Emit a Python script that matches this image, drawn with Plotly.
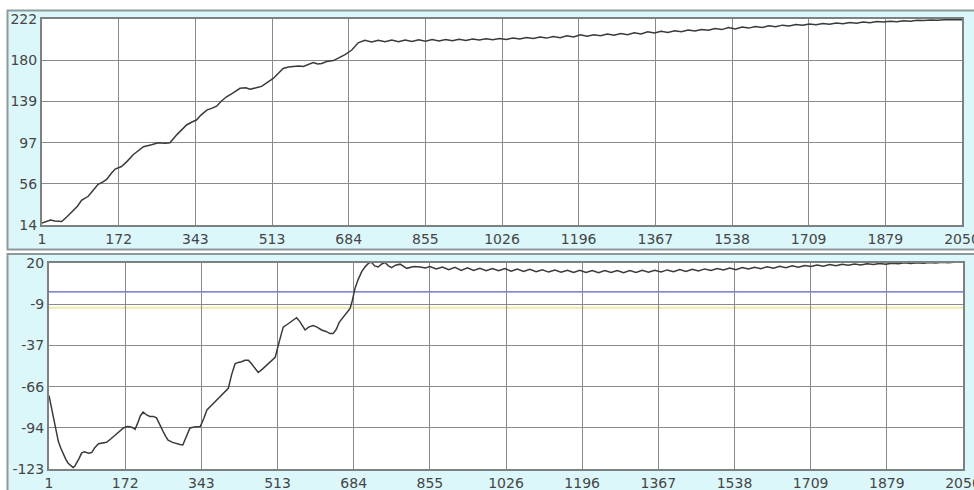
import plotly.graph_objects as go

# ---------------------------------------------------------------- data
# Upper trace: sample index vs. measured level
TOP_IDX = [1, 10, 20, 30, 45, 56, 67, 80, 89, 104, 115, 126, 135, 145, 155, 164, 178, 190, 204, 215,
           227, 245, 260, 275, 286, 301, 312, 323, 335, 345, 355, 368, 380, 390, 400, 412, 425, 442, 455, 464,
           478, 490, 503, 516, 527, 538, 550, 561, 572, 583, 595, 605, 615, 624, 635, 650, 663, 676, 691, 705,
           720, 735, 750, 765, 780, 795, 810, 825, 840, 855, 870, 885, 900, 915, 930, 945, 960, 975, 990, 1005,
           1020, 1035, 1050, 1065, 1080, 1095, 1110, 1125, 1140, 1155, 1170, 1185, 1200, 1215, 1230, 1245, 1260,
           1275, 1290, 1305, 1320, 1335, 1350, 1365, 1380, 1395, 1410, 1425, 1440, 1455, 1470, 1485, 1500, 1515,
           1530, 1545, 1560, 1575, 1590, 1605, 1620, 1635, 1650, 1665, 1680, 1695, 1710, 1725, 1740, 1755, 1770,
           1785, 1800, 1815, 1830, 1845, 1860, 1875, 1890, 1905, 1920, 1935, 1950, 1965, 1980, 1995, 2010, 2025,
           2040, 2050]
TOP_VAL = [16, 17.5, 19, 18, 17.5, 22, 27, 33, 39, 43, 49, 55, 57, 60, 66, 70.5, 73, 78, 85, 89,
           93, 95, 97, 96.5, 97, 105, 110, 115, 118, 120, 125, 130, 132, 134, 139, 143.5, 147, 152, 152.5, 151,
           152.5, 154, 158, 162, 167, 172, 173.5, 174, 174.5, 174, 176, 178, 176.5, 177, 179, 180, 183, 186, 190.7, 198,
           200.5, 198.8, 200.6, 199, 200.7, 199.1, 200.9, 199.3, 201, 199.6, 201.2, 199.8, 201.4, 200.1, 201.5, 200.4,
           201.7, 200.7, 202, 201, 202.3, 201.4, 202.8, 201.9, 203.2, 202.3, 203.7, 202.7, 204.3, 203.2, 205, 203.8,
           206, 204.6, 206.2, 205, 206.8, 205.5, 207.4, 206.2, 208.1, 206.9, 209.2, 207.8, 209.6, 208.5, 210.2, 209.1,
           210.9, 209.8, 211.5, 210.6, 212.3, 211.3, 213.4, 212, 213.8, 212.8, 214.5, 213.5, 215.1, 214.1, 215.8, 214.9,
           216.4, 215.6, 217, 216.2, 217.5, 216.8, 218, 217.3, 218.5, 217.8, 218.9, 218.3, 219.4, 218.9, 219.8, 219.3,
           220.3, 219.8, 220.7, 220.4, 221, 220.7, 221.2, 221, 221.4, 221.2]

# Lower trace: sample index vs. deviation
BOT_IDX = [1, 6, 11, 16, 22, 28, 33, 39, 44, 50, 55, 59, 63, 68, 74, 80, 85, 91, 97, 104,
           112, 120, 130, 140, 149, 158, 168, 176, 183, 190, 194, 200, 206, 212, 220, 227, 235, 242, 250, 257,
           263, 268, 278, 287, 295, 301, 309, 317, 330, 340, 348, 355, 366, 377, 390, 403, 410, 418, 425, 433,
           440, 448, 455, 462, 470, 480, 489, 498, 508, 516, 522, 526, 538, 547, 556, 563, 570, 575, 583, 593,
           602, 612, 622, 631, 638, 645, 652, 661, 668, 676, 681, 687, 694, 702, 710, 718, 724, 731, 739, 747,
           754, 762, 769, 778, 788, 796, 803, 812, 820, 833, 845,
           855, 869, 883, 897, 911, 925, 939, 953, 967, 981, 995, 1009, 1023, 1037, 1051, 1065, 1079, 1093, 1107,
           1121, 1135, 1149, 1163, 1177, 1191, 1205, 1219, 1233, 1247, 1261, 1275, 1289, 1303, 1317, 1331, 1345,
           1359, 1373, 1387, 1401, 1415, 1429, 1443, 1457, 1471, 1485, 1499, 1513, 1527, 1541, 1555, 1569, 1583,
           1597, 1611, 1625, 1639, 1653, 1667, 1681, 1695, 1709, 1723, 1737, 1751, 1765, 1779, 1793, 1807, 1821,
           1835, 1849, 1863, 1877, 1891, 1905, 1919, 1933, 1947, 1961, 1975, 1989, 2003, 2017, 2031, 2045, 2050]
BOT_VAL = [-72, -80, -88, -96, -104, -109, -113, -116.5, -119, -121, -122, -121, -119, -116, -112, -111, -111.5, -112, -111.5, -108,
           -105.5, -105, -104.5, -102, -99.5, -97, -94.5, -93.5, -93.6, -94.5, -95.5, -91, -86, -83.5, -85.5, -86.5, -86.5, -87.5, -92, -97,
           -100.5, -103, -104.5, -105.5, -106, -106.3, -101, -94.5, -93.6, -93.5, -88, -82, -78.5, -75, -71, -67, -58, -50, -49, -48.5,
           -47.5, -47.5, -50, -53, -56, -53.5, -51, -48.5, -45.5, -36, -28, -24.5, -22, -20, -18, -20.5, -24.5, -26.5, -24.5, -23.5,
           -24.5, -26.5, -27.5, -29, -29, -26, -21, -17.5, -15, -11.5, -6, 2.4, 8.5, 14, 17.5, 20, 20.5, 18, 17.2, 19.3,
           20.3, 18, 16.8, 18.5, 19.2, 17.5, 16.3, 17, 17.6, 17.3, 16.6,
           17.5, 15.8, 17.2, 15.3, 17.0, 14.9, 16.7, 14.8, 16.4, 14.6, 16.2, 14.6, 16.1, 14.3, 15.8, 14.1, 15.6, 13.9, 15.3,
           13.7, 15.1, 13.6, 15.0, 13.4, 14.9, 13.5, 14.8, 13.3, 14.7, 13.4, 14.8, 13.3, 14.8, 13.5, 14.9, 13.6,
           15.0, 13.8, 15.2, 14.0, 15.4, 14.2, 15.6, 14.5, 15.9, 14.8, 16.2, 15.1, 16.5, 15.4, 16.8, 15.8, 17.1,
           16.1, 17.4, 16.4, 17.7, 16.8, 18.0, 17.1, 18.3, 17.5, 18.6, 17.8, 18.9, 18.1, 19.1, 18.4, 19.3, 18.7,
           19.5, 18.9, 19.7, 19.1, 19.9, 19.4, 20.1, 19.6, 20.2, 19.8, 20.4, 20.0, 20.5, 20.1, 20.6, 20.3, 20.5]

X_TICKS = [1 + k * 2049 / 12 for k in range(13)]
X_LABELS = ["1", "172", "343", "513", "684", "855", "1026", "1196", "1367", "1538", "1709", "1879", "2050"]

TOP_RANGE = [14, 222]
TOP_TICKS = [14 + k * 208 / 5 for k in range(6)]
TOP_LABELS = ["14", "56", "97", "139", "180", "222"]

BOT_RANGE = [-123, 20]
BOT_TICKS = [-123 + k * 143 / 5 for k in range(6)]
BOT_LABELS = ["-123", "-94", "-66", "-37", "-9", "20"]

ZERO_LEVEL = 0
LIMIT_LEVEL = -11

# ---------------------------------------------------------------- layout helpers
W, H = 974, 490
PANEL = "#dcf7fa"
FRAME = "#7c8282"
GRID = "#8a8a8a"
INK = "#3a3a3a"


def fx(p):
    return p / W


def fy(p):
    return 1 - p / H


top_x = [fx(42), fx(962)]
top_y = [fy(225), fy(19)]
bot_x = [fx(49), fx(963)]
bot_y = [fy(469), fy(263)]

fig = go.Figure()
fig.add_trace(go.Scatter(x=TOP_IDX, y=TOP_VAL, mode="lines",
                         line=dict(color=INK, width=1.5), xaxis="x", yaxis="y", hoverinfo="skip"))
fig.add_trace(go.Scatter(x=BOT_IDX, y=BOT_VAL, mode="lines",
                         line=dict(color=INK, width=1.5), xaxis="x2", yaxis="y2", hoverinfo="skip"))

common = dict(showgrid=True, gridcolor=GRID, gridwidth=1, zeroline=False, showline=True,
              mirror=True, linecolor=FRAME, linewidth=2, ticks="", fixedrange=True,
              automargin=False, ticklabeloverflow="allow",
              tickfont=dict(family="DejaVu Sans", size=14, color="#454545"))

fig.update_layout(
    width=W, height=H, margin=dict(l=0, r=0, t=0, b=0, autoexpand=False),
    paper_bgcolor="white", plot_bgcolor="white", showlegend=False,
    xaxis=dict(domain=top_x, range=[1, 2050], tickmode="array", tickvals=X_TICKS, ticktext=X_LABELS,
               anchor="y", **common),
    yaxis=dict(domain=top_y, range=TOP_RANGE, tickmode="array", tickvals=TOP_TICKS, ticktext=TOP_LABELS,
               anchor="x", **common),
    xaxis2=dict(domain=bot_x, range=[1, 2050], tickmode="array", tickvals=X_TICKS, ticktext=X_LABELS,
                anchor="y2", **common),
    yaxis2=dict(domain=bot_y, range=BOT_RANGE, tickmode="array", tickvals=BOT_TICKS, ticktext=BOT_LABELS,
                anchor="x2", **common),
)

shapes = [
    # panel backgrounds
    dict(type="rect", xref="paper", yref="paper", x0=fx(7.5), x1=fx(990), y0=fy(249.5), y1=fy(10.5),
         fillcolor=PANEL, line=dict(color="#8e9a9a", width=2), layer="below"),
    dict(type="rect", xref="paper", yref="paper", x0=fx(7.5), x1=fx(990), y0=fy(520), y1=fy(254),
         fillcolor=PANEL, line=dict(color="#8e9a9a", width=2), layer="below"),
    # white plotting areas
    dict(type="rect", xref="paper", yref="paper", x0=top_x[0], x1=top_x[1], y0=top_y[0], y1=top_y[1],
         fillcolor="white", line=dict(width=0), layer="below"),
    dict(type="rect", xref="paper", yref="paper", x0=bot_x[0], x1=bot_x[1], y0=bot_y[0], y1=bot_y[1],
         fillcolor="white", line=dict(width=0), layer="below"),
    # reference levels in the lower panel
    dict(type="line", xref="x2 domain", yref="y2", x0=0, x1=1, y0=LIMIT_LEVEL, y1=LIMIT_LEVEL,
         line=dict(color="#f1e9ac", width=2), layer="below"),
    dict(type="line", xref="x2 domain", yref="y2", x0=0, x1=1, y0=ZERO_LEVEL, y1=ZERO_LEVEL,
         line=dict(color="#5c5cc4", width=1.3), layer="below"),
]
fig.update_layout(shapes=shapes)

fig.write_html("out.html")
